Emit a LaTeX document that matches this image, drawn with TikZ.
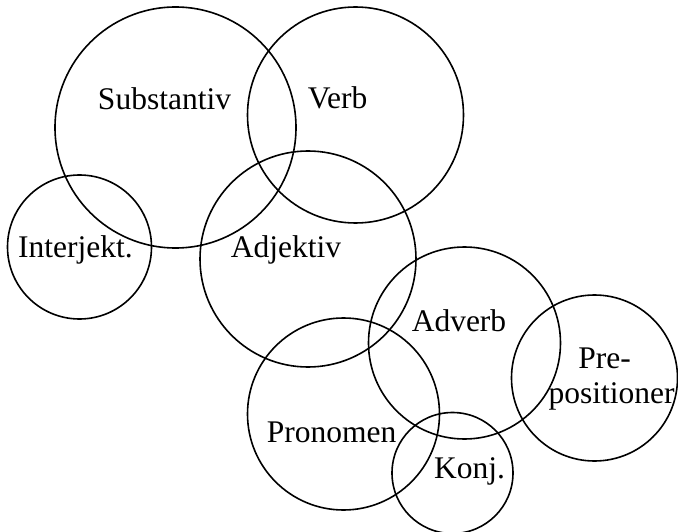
\documentclass[tikz,border=0pt]{standalone}
\usepackage{fontspec}
\setmainfont{Liberation Serif}
\begin{document}
\begin{tikzpicture}[x=1pt,y=-1pt,
  ring/.style={draw=black, line width=1.6pt, circle, inner sep=0pt, minimum size=#1},
  lbl/.style={anchor=base, inner sep=0pt, font=\fontsize{31.5}{34}\selectfont}]
\useasboundingbox (0,0) rectangle (678,532);
% circles
\node[ring=241pt] (csub) at (175.5,127.5) {};
\node[ring=216pt] (cverb) at (355.5,115) {};
\node[ring=144pt] (cint) at (79.5,247) {};
\node[ring=216pt] (cadj) at (308,259) {};
\node[ring=192pt] (cadv) at (464.5,343) {};
\node[ring=166pt] (cpre) at (594.5,378) {};
\node[ring=192pt] (cpro) at (343.5,414) {};
\node[ring=121pt] (ckon) at (452.5,473) {};
% labels
\node[lbl] (tsub) at (164.5,110) {Substantiv};
\node[lbl] (tverb) at (337.5,109) {Verb};
\node[lbl] (tint) at (75.5,257) {Interjekt.};
\node[lbl] (tadj) at (286,257) {Adjektiv};
\node[lbl] (tadv) at (459,331) {Adverb};
\node[lbl] (tpre1) at (604.5,368) {Pre-};
\node[lbl] (tpre2) at (611.5,403) {positioner};
\node[lbl] (tpro) at (331.5,442) {Pronomen};
\node[lbl] (tkon) at (469.5,478) {Konj.};
\end{tikzpicture}
\end{document}
